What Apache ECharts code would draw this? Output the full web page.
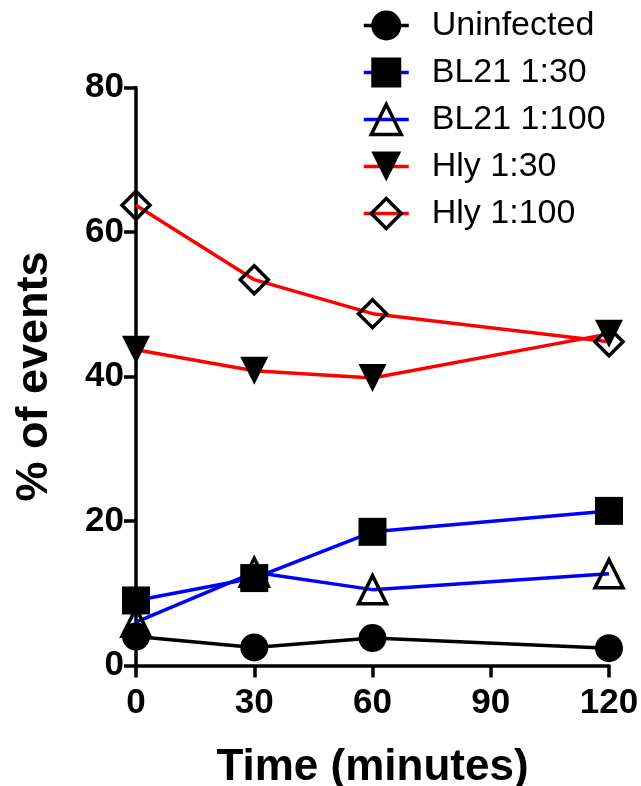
<!DOCTYPE html>
<html>
<head>
<meta charset="utf-8">
<script src="https://cdn.jsdelivr.net/npm/echarts@6/dist/echarts.min.js"></script>
<style>html,body{margin:0;padding:0;background:#fff}#c{width:641px;height:786px}</style>
</head>
<body>
<div id="c"></div>
<script>
const times = [0, 30, 60, 120];
const xTicks = [0, 30, 60, 90, 120];
const yTicks = [0, 20, 40, 60, 80];
const uninfected = [4.0, 2.5, 3.8, 2.4];
const bl21_30 = [9.0, 12.1, 18.5, 21.4];
const bl21_100 = [6.0, 12.9, 10.5, 12.7];
const hly_30 = [43.7, 40.8, 39.8, 45.9];
const hly_100 = [63.7, 53.4, 48.7, 44.8];
const seriesNames = ['Uninfected', 'BL21 1:30', 'BL21 1:100', 'Hly 1:30', 'Hly 1:100'];
const seriesColors = ['#000', '#0000ff', '#0000ff', '#ff0000', '#ff0000'];
const seriesFilled = [true, true, false, true, false];

const FONT = 'Liberation Sans, Arial, sans-serif';
const pair = arr => times.map((t, i) => [t, arr[i]]);

function mk(name, data, color, symbol, filled, rotate) {
  return {
    name: name, type: 'line', data: pair(data),
    symbol: symbol, symbolSize: 28, symbolRotate: rotate || 0,
    showAllSymbol: true,
    lineStyle: { color: color, width: 3.5 },
    itemStyle: filled
      ? { color: '#000', borderColor: '#000', borderWidth: 0 }
      : { color: 'rgba(0,0,0,0)', borderColor: '#000', borderWidth: 3.5 },
    emphasis: { disabled: true },
    animation: false
  };
}

const chart = echarts.init(document.getElementById('c'), null, { renderer: 'canvas' });
chart.setOption({
  backgroundColor: '#fff',
  animation: false,
  grid: { left: 136, right: 32, top: 87.5, bottom: 120.5, outerBoundsMode: 'none', containLabel: false },
  legend: {
    orient: 'vertical', left: 357, top: 0, padding: [7, 5, 5, 5],
    itemWidth: 45, itemHeight: 37.5, itemGap: 10,
    textStyle: { fontFamily: FONT, fontSize: 34, color: '#000', padding: [0, 0, 0, 18], lineHeight: 37 },
    lineStyle: { width: 3.5 },
    data: seriesNames.map((n, i) => ({
      name: n,
      lineStyle: { width: 3.5, color: seriesColors[i] },
      itemStyle: seriesFilled[i]
        ? { color: '#000', borderWidth: 0 }
        : { color: 'rgba(0,0,0,0)', borderColor: '#000', borderWidth: 3.5 }
    }))
  },
  xAxis: {
    type: 'value', min: 0, max: 120, interval: 30,
    name: 'Time (minutes)', nameLocation: 'middle', nameGap: 80,
    nameTextStyle: { fontFamily: FONT, fontSize: 44, fontWeight: 'bold', color: '#000' },
    axisLine: { lineStyle: { color: '#000', width: 3.5 } },
    axisTick: { length: 12, lineStyle: { color: '#000', width: 3.5 } },
    axisLabel: { fontFamily: FONT, fontSize: 35, fontWeight: 'bold', color: '#000', margin: 20,
      formatter: v => xTicks.indexOf(v) >= 0 ? String(v) : '' },
    splitLine: { show: false }
  },
  yAxis: {
    type: 'value', min: 0, max: 80, interval: 20,
    name: '% of events', nameLocation: 'middle', nameGap: 79, nameRotate: 90,
    nameTextStyle: { fontFamily: FONT, fontSize: 45, fontWeight: 'bold', color: '#000' },
    axisLine: { show: true, lineStyle: { color: '#000', width: 3.5 } },
    axisTick: { show: true, length: 12, lineStyle: { color: '#000', width: 3.5 } },
    axisLabel: { fontFamily: FONT, fontSize: 35, fontWeight: 'bold', color: '#000', margin: 12,
      formatter: v => yTicks.indexOf(v) >= 0 ? String(v) : '' },
    splitLine: { show: false }
  },
  series: [
    mk(seriesNames[0], uninfected, seriesColors[0], 'circle', true),
    mk(seriesNames[2], bl21_100, seriesColors[2], 'triangle', false),
    mk(seriesNames[1], bl21_30, seriesColors[1], 'rect', true),
    mk(seriesNames[3], hly_30, seriesColors[3], 'triangle', true, 180),
    mk(seriesNames[4], hly_100, seriesColors[4], 'diamond', false)
  ]
});
</script>
</body>
</html>
